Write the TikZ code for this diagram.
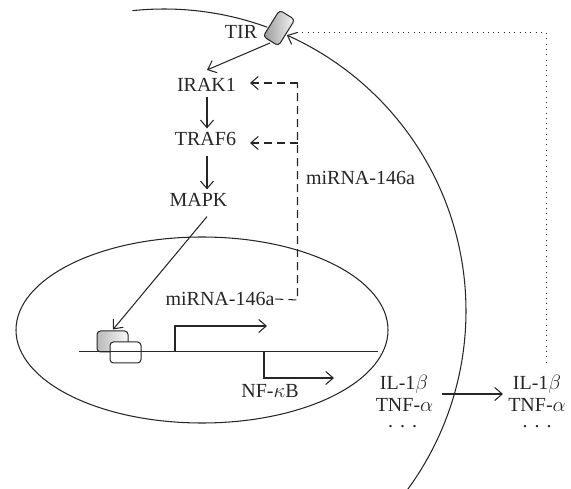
\documentclass[tikz,border=0pt]{standalone}
\usepackage{fontspec}
\setmainfont{Liberation Serif}
\usetikzlibrary{arrows.meta,calc,shapes.geometric}
\definecolor{ink}{HTML}{262626}
\tikzset{
  lbl/.style={text=ink,font=\fontsize{20}{22}\selectfont,inner sep=0pt,outer sep=0pt,text depth=0pt},
  arr/.style={draw=ink,line width=1.05pt,-{Straight Barb[length=7.5pt,width=13pt,line width=1.05pt]}},
  dasharr/.style={arr,dash pattern=on 8pt off 5pt},
  plain/.style={draw=ink,line width=1.05pt},
  dots/.style={draw=ink,line width=1pt,dash pattern=on 1pt off 4.3pt},
  boxg/.style={draw=ink,line width=1pt,rounded corners=3.5pt,shading=axis,left color=gray!80,right color=gray!8},
  boxw/.style={draw=ink,line width=1pt,rounded corners=3.5pt,fill=white}
}
\newcommand{\tdots}{.\hspace{7pt}.\hspace{7pt}.}
\begin{document}
\begin{tikzpicture}[x=1pt,y=-1pt]
\useasboundingbox (0,0) rectangle (571,489);
% cell membrane
\draw[plain] plot[domain=-96:-70,samples=30] ({164+302*cos(\x)},{311+302*sin(\x)});
\draw[arr] plot[domain=36.5:-66,samples=90,smooth] ({164+302*cos(\x)},{311+302*sin(\x)});
% nucleus
\node[draw=ink,line width=1.05pt,ellipse,minimum width=372pt,minimum height=186pt,inner sep=0pt] (nuc) at (202,330) {};
% receptor
\node[boxg,rotate=-32,minimum width=18pt,minimum height=31pt,inner sep=0pt] (tirbox) at (279,28) {};
% labels
\node[lbl] (tir) at (241,32) {TIR};
\node[lbl] (irak) at (206.5,85) {IRAK1};
\node[lbl] (traf) at (205.5,139) {TRAF6};
\node[lbl] (mapk) at (198.5,200) {MAPK};
\node[lbl] (mi1) at (360.5,178) {miRNA-146a};
\node[lbl] (mi2) at (220,299) {miRNA-146a};
\node[lbl] (nfkb) at (270,390.5) {NF-$\kappa$B};
\node[lbl] (il1) at (404,382.5) {IL-1$\beta$};
\node[lbl] (tnf1) at (404.5,404.5) {TNF-$\alpha$};
\node[lbl,anchor=base] (dd1) at (402.5,428) {\tdots};
\node[lbl] (il2) at (537,382.5) {IL-1$\beta$};
\node[lbl] (tnf2) at (537,404.5) {TNF-$\alpha$};
\node[lbl,anchor=base] (dd2) at (537,428) {\tdots};
% pathway arrows
\coordinate (t0) at (270,43);
\coordinate (t1) at (207,70);
\draw[arr] (t0) -- (t1);
\draw[arr] ([shift={(0.5,5)}]irak.south) -- ([shift={(1.5,-4)}]traf.north);
\draw[arr] ([shift={(1.5,10)}]traf.south) -- ([shift={(8.5,-4)}]mapk.north);
% dashed feedback
\coordinate (dcorner) at (297.5,300);
\coordinate (dtop) at (297.5,83);
\coordinate (dmid) at (297.5,143);
\coordinate (dh1) at (250,83);
\coordinate (dh2) at (250,143);
\draw[plain,dash pattern=on 8pt off 5pt] ([xshift=1pt]mi2.east) -- (dcorner) -- (dtop);
\draw[dasharr] (dtop) -- (dh1);
\draw[dasharr] (dmid) -- (dh2);
% DNA
\node[boxg,minimum width=31pt,minimum height=21pt,inner sep=0pt,shading angle=45,left color=gray!55,right color=gray!5] (gbox) at (112.5,341.5) {};
\node[boxw,minimum width=31pt,minimum height=21pt,inner sep=0pt] (wbox) at (125.5,352.5) {};
\coordinate (dnaL) at (79,351.7);
\coordinate (dnaR) at (378,351.7);
\draw[plain] (dnaL) -- (dnaR);
\coordinate (gtip) at (113,329.5);
\draw[arr] ([shift={(8.5,10)}]mapk.south) -- (gtip);
\coordinate (g1a) at (175,351.7);
\coordinate (g1b) at (175,326);
\coordinate (g1c) at (267,326);
\coordinate (g2a) at (264,351.7);
\coordinate (g2b) at (264,378);
\coordinate (g2c) at (334,378);
\draw[arr] (g1a) -- (g1b) -- (g1c);
\draw[arr] (g2a) -- (g2b) -- (g2c);
% secretion
\coordinate (s1) at (442,394);
\coordinate (s2) at (503,394);
\draw[arr] (s1) -- (s2);
% dotted feedback
\coordinate (dp) at (297,33);
\coordinate (dq) at (546,33);
\coordinate (dr) at (546,362);
\draw[dots] (dp) -- (dq) -- (dr);
\end{tikzpicture}
\end{document}
